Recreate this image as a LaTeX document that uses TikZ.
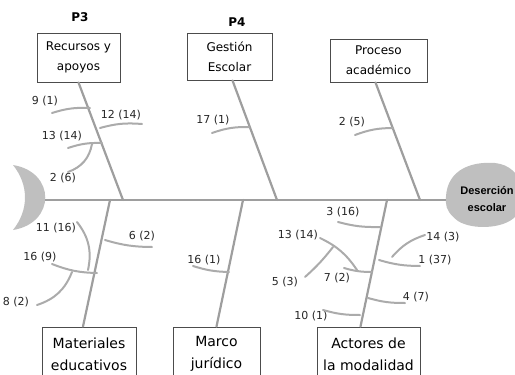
\documentclass[tikz,border=0pt]{standalone}
\usepackage{fontspec}
\setmainfont{DejaVu Sans}
\newfontfamily\headfont{Liberation Sans}
\begin{document}
\begin{tikzpicture}[x=1pt,y=-1pt,
  bone/.style={draw=black!38, line width=2.2pt, line cap=round},
  sub/.style={draw=black!33, line width=2pt, line cap=round},
  box/.style={draw=black!70, line width=1pt, fill=white, align=center, inner sep=0pt, text=black},
  upbox/.style={box, font=\fontsize{12}{20}\selectfont},
  lowbox/.style={box, font=\fontsize{14}{22}\selectfont},
  lab/.style={text=black!85, font=\fontsize{11}{12}\selectfont, inner sep=0pt},
  ptag/.style={font=\bfseries\fontsize{12}{14}\selectfont, inner sep=0pt}]
\useasboundingbox (0,0) rectangle (515,375);
\clip (0,0) rectangle (515,375);

% tail crescent
\fill[black!25] (13,165) .. controls (56,172) and (56,223) .. (13,230)
  .. controls (29,210) and (29,185) .. (13,165);
% head
\fill[black!25] (446,203) .. controls (444,172) and (468,161) .. (495,163)
  .. controls (525,166) and (530,203) .. (515,217)
  .. controls (503,229) and (472,230) .. (458,221)
  .. controls (450,215) and (446,209) .. (446,203);
\node[font=\headfont\bfseries\fontsize{11}{17}\selectfont, align=center, inner sep=0pt] (head) at (487,199) {Deserción\\escolar};

% spine
\coordinate (tail) at (45,200);
\coordinate (hd) at (446,200);
\draw[bone, line width=2.6pt, line cap=butt] (tail) -- (hd);

% boxes
\node[upbox, minimum width=83pt, minimum height=49pt] (rec) at (78.5,57.5) {Recursos y\\apoyos};
\node[upbox, minimum width=85pt, minimum height=47pt] (ges) at (229.5,56.5) {Gestión\\Escolar};
\node[upbox, minimum width=97pt, minimum height=43pt] (pro) at (378.5,60.5) {Proceso\\académico};
\node[ptag] (p3) at (80,17) {P3};
\node[ptag] (p4) at (237,22) {P4};
\node[lowbox, minimum width=94pt, minimum height=54pt] (mat) at (89,354) {Materiales\\educativos};
\node[lowbox, minimum width=87pt, minimum height=54pt] (mar) at (216.5,354) {Marco\\jurídico};
\node[lowbox, minimum width=103pt, minimum height=54pt] (act) at (368.5,354) {Actores de\\la modalidad};

% main bones
\coordinate (s1) at (123,200);
\coordinate (s2) at (277,200);
\coordinate (s3) at (420,200);
\coordinate (s4) at (110,200);
\coordinate (s5) at (243,200);
\coordinate (s6) at (387,200);
\draw[bone] (rec.south) -- (s1);
\draw[bone] ([xshift=3pt]ges.south) -- (s2);
\draw[bone] ([xshift=-3pt]pro.south) -- (s3);
\draw[bone] (s4) -- ([xshift=-6pt]mat.north);
\draw[bone] (s5) -- (mar.north);
\draw[bone] (s6) -- ([xshift=-8pt]act.north);

% labels
\node[lab] (l91) at (45,101) {9 (1)};
\node[lab] (l1214) at (121,115) {12 (14)};
\node[lab] (l1314a) at (62,136) {13 (14)};
\node[lab] (l26) at (63,178) {2 (6)};
\node[lab] (l171) at (213,120) {17 (1)};
\node[lab] (l25) at (352,122) {2 (5)};
\node[lab] (l62) at (142,236) {6 (2)};
\node[lab] (l1116) at (56,228) {11 (16)};
\node[lab] (l169) at (40,257) {16 (9)};
\node[lab] (l82) at (16,302) {8 (2)};
\node[lab] (l161) at (204,260) {16 (1)};
\node[lab] (l316) at (343,212) {3 (16)};
\node[lab] (l1314b) at (298,235) {13 (14)};
\node[lab] (l53) at (285,282) {5 (3)};
\node[lab] (l72) at (337,278) {7 (2)};
\node[lab] (l143) at (443,237) {14 (3)};
\node[lab] (l137) at (435,260) {1 (37)};
\node[lab] (l47) at (416,297) {4 (7)};
\node[lab] (l101) at (311,316) {10 (1)};

% sub bones
\coordinate (a1) at (52,113);  \coordinate (a2) at (90,108);
\draw[sub] (a1) to[bend left=10] (a2);
\coordinate (b1) at (100,128); \coordinate (b2) at (142,124);
\draw[sub] (b1) to[bend left=10] (b2);
\coordinate (c1) at (68,148);  \coordinate (c2) at (102,143);
\draw[sub] (c1) to[bend left=10] (c2);
\coordinate (d1) at (92,144);  \coordinate (d2) at (68,172);
\draw[sub] (d1) to[bend left=30] (d2);
\coordinate (e1) at (212,133); \coordinate (e2) at (249,127);
\draw[sub] (e1) to[bend left=10] (e2);
\coordinate (f1) at (355,135); \coordinate (f2) at (393,128);
\draw[sub] (f1) to[bend left=10] (f2);
\coordinate (g1) at (105,240); \coordinate (g2) at (152,247);
\draw[sub] (g1) to[bend right=8] (g2);
\coordinate (h1) at (77,222);  \coordinate (h2) at (88,270);
\draw[sub] (h1) to[bend left=25] (h2);
\coordinate (i1) at (52,264);  \coordinate (i2) at (97,273);
\draw[sub] (i1) to[bend right=10] (i2);
\coordinate (j1) at (72,272);  \coordinate (j2) at (37,305);
\draw[sub] (j1) to[bend left=25] (j2);
\coordinate (k1) at (193,266); \coordinate (k2) at (229,272);
\draw[sub] (k1) to[bend right=8] (k2);
\coordinate (m1) at (338,222); \coordinate (m2) at (380,227);
\draw[sub] (m1) to[bend right=8] (m2);
\coordinate (n1) at (320,238); \coordinate (n2) at (357,270);
\draw[sub] (n1) to[bend left=15] (n2);
\coordinate (o1) at (305,277); \coordinate (o2) at (333,247);
\draw[sub] (o1) to[bend right=5] (o2);
\coordinate (q1) at (344,268); \coordinate (q2) at (372,272);
\draw[sub] (q1) to[bend right=8] (q2);
\coordinate (r1) at (392,257); \coordinate (r2) at (425,235);
\draw[sub] (r1) to[bend left=15] (r2);
\coordinate (t1) at (379,260); \coordinate (t2) at (420,266);
\draw[sub] (t1) to[bend right=8] (t2);
\coordinate (u1) at (368,298); \coordinate (u2) at (405,303);
\draw[sub] (u1) to[bend right=8] (u2);
\coordinate (v1) at (323,310); \coordinate (v2) at (360,315);
\draw[sub] (v1) to[bend right=8] (v2);
\end{tikzpicture}
\end{document}
